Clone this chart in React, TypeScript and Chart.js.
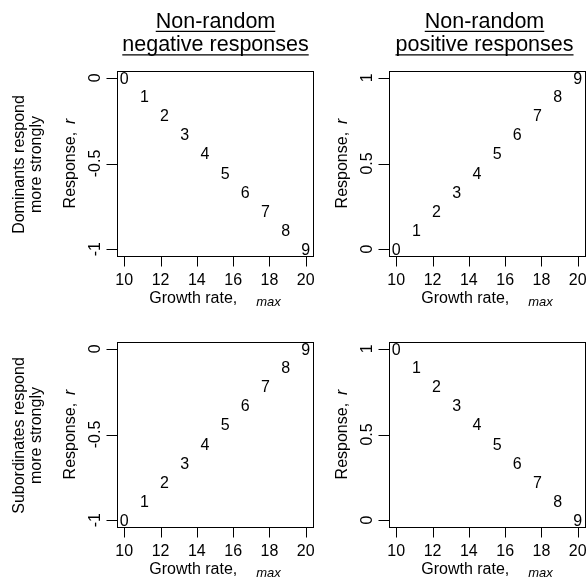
import React, { useEffect, useRef } from 'react';
import { Chart, registerables } from 'chart.js';

Chart.register(...registerables);

// ---------- data ----------
const digitLabels = ['0', '1', '2', '3', '4', '5', '6', '7', '8', '9'];
const growthRates = [10, 11.11, 12.22, 13.33, 14.44, 15.56, 16.67, 17.78, 18.89, 20];

const negDominant = [0, -0.11, -0.22, -0.33, -0.44, -0.56, -0.67, -0.78, -0.89, -1];
const posDominant = [0, 0.11, 0.22, 0.33, 0.44, 0.56, 0.67, 0.78, 0.89, 1];
const negSubordinate = [-1, -0.89, -0.78, -0.67, -0.56, -0.44, -0.33, -0.22, -0.11, 0];
const posSubordinate = [1, 0.89, 0.78, 0.67, 0.56, 0.44, 0.33, 0.22, 0.11, 0];

const xTicks = [10, 12, 14, 16, 18, 20];
const xTickLabels = ['10', '12', '14', '16', '18', '20'];
const yTicksNeg = [0, -0.5, -1];
const yTickLabelsNeg = ['0', '-0.5', '-1'];
const yTicksPos = [0, 0.5, 1];
const yTickLabelsPos = ['0', '0.5', '1'];

const titleNegative = ['Non-random', 'negative responses'];
const titlePositive = ['Non-random', 'positive responses'];
const rowDominant = ['Dominants respond', 'more strongly'];
const rowSubordinate = ['Subordinates respond', 'more strongly'];

const xAxisTitle = 'Growth rate,';
const xAxisSub = 'max';
const yAxisTitle = 'Response,';
const yAxisItalic = 'r';

const FONT = '"Liberation Sans", Arial, Helvetica, sans-serif';
const W = 588;
const H = 583;

type Box = { l: number; t: number; r: number; b: number };

type PanelProps = {
  box: Box;
  values: number[];
  yMin: number;
  yMax: number;
  yTicks: number[];
  yTickLabels: string[];
  title?: string[];
  titleX?: number;
  rowLabel?: string[];
};

function Panel(props: PanelProps) {
  const ref = useRef<HTMLCanvasElement>(null);

  useEffect(() => {
    const { box, values, yMin, yMax, yTicks, yTickLabels, title, titleX, rowLabel } = props;

    const plugin = {
      id: 'rpanel',
      afterDraw(chart: any) {
        const ctx = chart.ctx as CanvasRenderingContext2D;
        const { left, right, top, bottom } = chart.chartArea;
        const xs = chart.scales.x;
        const ys = chart.scales.y;
        ctx.save();
        ctx.strokeStyle = '#000';
        ctx.fillStyle = '#000';
        ctx.lineWidth = 1;

        // box
        ctx.strokeRect(Math.round(left) + 0.5, Math.round(top) + 0.5, Math.round(right - left), Math.round(bottom - top));

        // ticks
        ctx.beginPath();
        xTicks.forEach((v) => {
          const px = Math.round(xs.getPixelForValue(v)) + 0.5;
          ctx.moveTo(px, bottom + 1);
          ctx.lineTo(px, bottom + 10.5);
        });
        yTicks.forEach((v) => {
          const py = Math.round(ys.getPixelForValue(v)) + 0.5;
          ctx.moveTo(left, py);
          ctx.lineTo(left - 10.5, py);
        });
        ctx.stroke();

        // tick labels
        ctx.font = `16px ${FONT}`;
        ctx.textAlign = 'center';
        ctx.textBaseline = 'alphabetic';
        xTicks.forEach((v, i) => {
          ctx.fillText(xTickLabels[i], xs.getPixelForValue(v), bottom + 29);
        });
        yTicks.forEach((v, i) => {
          ctx.save();
          ctx.translate(left - 17.5, ys.getPixelForValue(v));
          ctx.rotate(-Math.PI / 2);
          ctx.fillText(yTickLabels[i], 0, 0);
          ctx.restore();
        });

        // digit markers at data positions
        const meta = chart.getDatasetMeta(0);
        meta.data.forEach((el: any, i: number) => {
          ctx.fillText(digitLabels[i], el.x, el.y + 5.7);
        });

        // x axis title
        const cx = (left + right) / 2;
        ctx.font = `16px ${FONT}`;
        const w1 = ctx.measureText(xAxisTitle).width;
        const gap = 19;
        ctx.font = `italic 13px ${FONT}`;
        const w2 = ctx.measureText(xAxisSub).width;
        const start = cx - (w1 + gap + w2) / 2;
        ctx.textAlign = 'left';
        ctx.font = `16px ${FONT}`;
        ctx.fillText(xAxisTitle, start, bottom + 46.5);
        ctx.font = `italic 13px ${FONT}`;
        ctx.fillText(xAxisSub, start + w1 + gap, bottom + 49.5);

        // y axis title (rotated)
        const cy = (top + bottom) / 2;
        ctx.font = `16px ${FONT}`;
        const y1 = ctx.measureText(yAxisTitle).width;
        const ygap = 8;
        ctx.font = `italic 16px ${FONT}`;
        const y2 = ctx.measureText(yAxisItalic).width;
        ctx.save();
        ctx.translate(left - 42, cy);
        ctx.rotate(-Math.PI / 2);
        const ys0 = -(y1 + ygap + y2) / 2;
        ctx.font = `16px ${FONT}`;
        ctx.fillText(yAxisTitle, ys0, 0);
        ctx.font = `italic 16px ${FONT}`;
        ctx.fillText(yAxisItalic, ys0 + y1 + ygap, 0);
        ctx.restore();

        // column title
        if (title && titleX !== undefined) {
          ctx.font = `21.5px ${FONT}`;
          ctx.textAlign = 'center';
          const baselines = [27.5, 51];
          title.forEach((line, i) => {
            ctx.fillText(line, titleX, baselines[i]);
            const tw = ctx.measureText(line).width;
            ctx.lineWidth = 1.3;
            ctx.beginPath();
            ctx.moveTo(titleX - tw / 2, baselines[i] + 3.8);
            ctx.lineTo(titleX + tw / 2, baselines[i] + 3.8);
            ctx.stroke();
          });
        }

        // row label
        if (rowLabel) {
          ctx.font = `16px ${FONT}`;
          ctx.textAlign = 'center';
          const bx = [23.5, 40.5];
          rowLabel.forEach((line, i) => {
            ctx.save();
            ctx.translate(bx[i], cy + 1);
            ctx.rotate(-Math.PI / 2);
            ctx.fillText(line, 0, 0);
            ctx.restore();
          });
        }

        ctx.restore();
      },
    };

    const chart = new Chart(ref.current as HTMLCanvasElement, {
      type: 'scatter',
      data: {
        datasets: [
          {
            data: growthRates.map((x, i) => ({ x, y: values[i] })),
            pointRadius: 0,
            pointHoverRadius: 0,
            showLine: false,
          },
        ],
      },
      options: {
        animation: false,
        responsive: false,
        devicePixelRatio: 1,
        events: [],
        layout: {
          padding: { left: box.l, top: box.t, right: W - box.r, bottom: H - box.b },
        },
        plugins: { legend: { display: false }, tooltip: { enabled: false } },
        scales: {
          x: { type: 'linear', display: false, min: 9.6, max: 20.4 },
          y: { type: 'linear', display: false, min: yMin, max: yMax },
        },
      },
      plugins: [plugin],
    } as any);

    return () => chart.destroy();
  }, []);

  return (
    <canvas
      ref={ref}
      width={W}
      height={H}
      style={{ position: 'absolute', left: 0, top: 0, width: W, height: H }}
    />
  );
}

export default function App() {
  return (
    <div
      style={{
        position: 'fixed',
        left: 0,
        top: 0,
        width: W,
        height: H,
        background: '#fff',
        overflow: 'hidden',
      }}
    >
      <Panel
        box={{ l: 117, t: 71, r: 313, b: 256 }}
        values={negDominant}
        yMin={-1.04}
        yMax={0.04}
        yTicks={yTicksNeg}
        yTickLabels={yTickLabelsNeg}
        title={titleNegative}
        titleX={215.5}
        rowLabel={rowDominant}
      />
      <Panel
        box={{ l: 389, t: 71, r: 585, b: 256 }}
        values={posDominant}
        yMin={-0.04}
        yMax={1.04}
        yTicks={yTicksPos}
        yTickLabels={yTickLabelsPos}
        title={titlePositive}
        titleX={484.5}
      />
      <Panel
        box={{ l: 117, t: 342, r: 313, b: 527 }}
        values={negSubordinate}
        yMin={-1.04}
        yMax={0.04}
        yTicks={yTicksNeg}
        yTickLabels={yTickLabelsNeg}
        rowLabel={rowSubordinate}
      />
      <Panel
        box={{ l: 389, t: 342, r: 585, b: 527 }}
        values={posSubordinate}
        yMin={-0.04}
        yMax={1.04}
        yTicks={yTicksPos}
        yTickLabels={yTickLabelsPos}
      />
    </div>
  );
}
